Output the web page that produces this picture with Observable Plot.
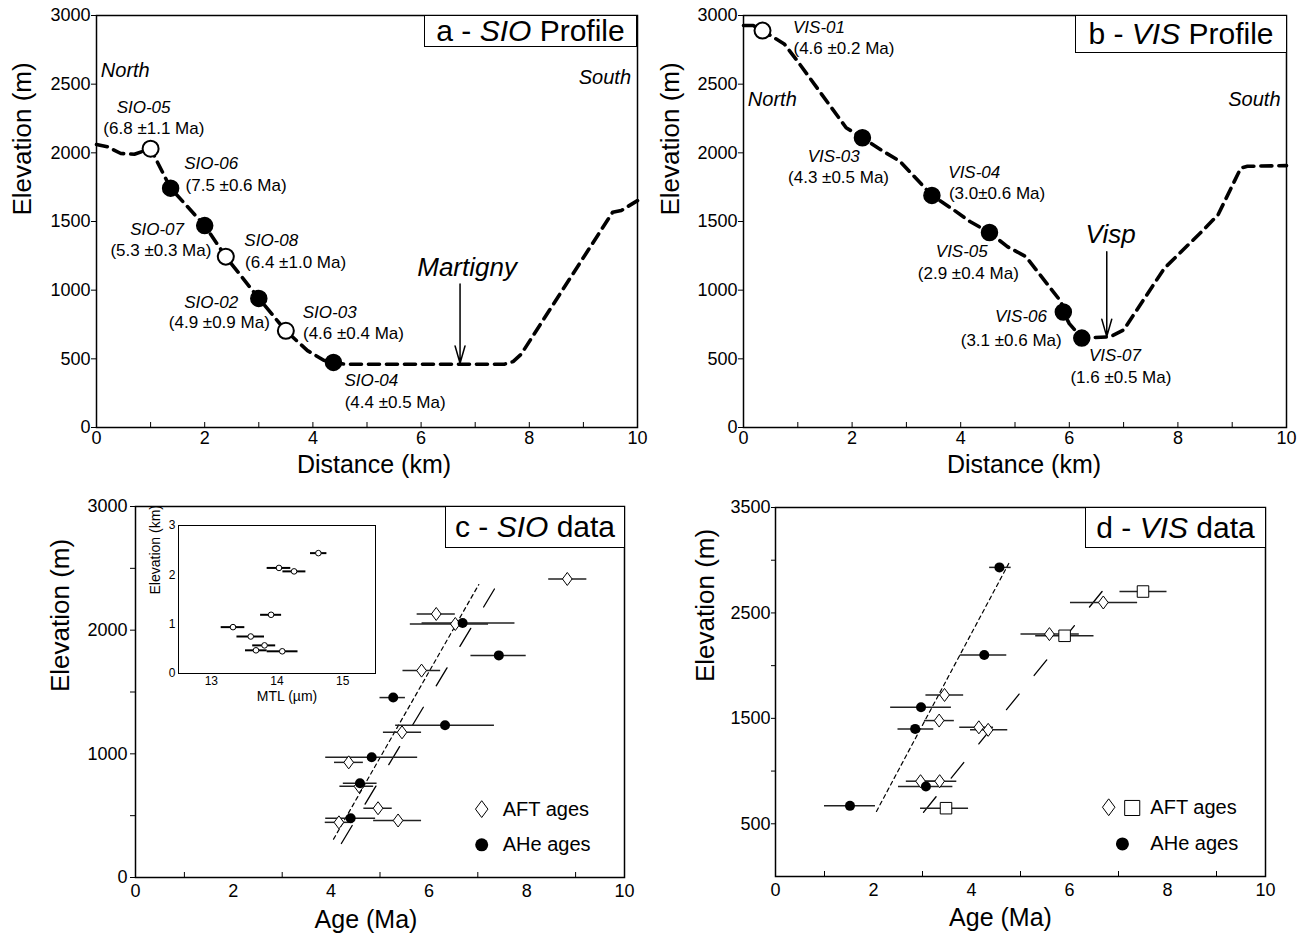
<!DOCTYPE html>
<html><head><meta charset="utf-8">
<script src="https://cdn.jsdelivr.net/npm/d3@7"></script>
<script src="https://cdn.jsdelivr.net/npm/@observablehq/plot@0.6"></script>
<style>
body{margin:0;background:#fff;}
#root{position:relative;width:1298px;height:941px;background:#fff;overflow:hidden;}
</style></head>
<body><div id="root"></div>
<script>
const FONT = "'Liberation Sans', Arial, Helvetica, sans-serif";

// ---------- a: SIO profile ----------
const sioProfileDist = [0, 0.2, 0.45, 0.7, 1.0, 1.37, 2.0, 2.39, 3.0, 3.5, 3.9, 4.2, 4.38, 4.6, 7.54, 7.7, 7.85, 9.54, 9.7, 10];
const sioProfileElev = [2060, 2045, 1995, 1990, 2030, 1743, 1470, 1244, 940, 704, 560, 490, 474, 461, 461, 480, 534, 1567, 1580, 1652];
const sioIds = ["SIO-05", "SIO-06", "SIO-07", "SIO-08", "SIO-02", "SIO-03", "SIO-04"];
const sioDist = [1.0, 1.37, 2.0, 2.39, 3.0, 3.5, 4.38];
const sioElev = [2030, 1743, 1470, 1244, 940, 704, 474];
const sioAgeText = ["(6.8 ±1.1 Ma)", "(7.5 ±0.6 Ma)", "(5.3 ±0.3 Ma)", "(6.4 ±1.0 Ma)", "(4.9 ±0.9 Ma)", "(4.6 ±0.4 Ma)", "(4.4 ±0.5 Ma)"];
const sioOpen = [true, false, false, true, false, true, false];
const sioIdAnchor = [[0.87, 2332], [2.12, 1919], [1.12, 1445], [3.23, 1360], [2.12, 911], [4.31, 838], [5.08, 340]];
const sioAgeAnchor = [[1.06, 2174], [2.58, 1761], [1.19, 1292], [3.68, 1202], [2.27, 765], [4.75, 685], [5.52, 182]];

// ---------- b: VIS profile ----------
const visProfileDist = [0, 0.18, 0.35, 0.75, 1.01, 1.89, 2.19, 2.57, 2.88, 3.47, 3.87, 4.17, 4.53, 4.86, 5.2, 5.85, 5.89, 6.0, 6.23, 6.75, 7.0, 7.75, 8.06, 8.44, 8.74, 9.16, 9.28, 10];
const visProfileElev = [2927, 2927, 2890, 2793, 2659, 2183, 2110, 2012, 1939, 1690, 1585, 1500, 1420, 1317, 1244, 915, 841, 756, 651, 660, 710, 1159, 1280, 1427, 1549, 1890, 1902, 1907];
const visIds = ["VIS-01", "VIS-03", "VIS-04", "VIS-05", "VIS-06", "VIS-07"];
const visDist = [0.35, 2.19, 3.47, 4.53, 5.89, 6.23];
const visElev = [2890, 2110, 1690, 1420, 841, 651];
const visAgeText = ["(4.6 ±0.2 Ma)", "(4.3 ±0.5 Ma)", "(3.0±0.6 Ma)", "(2.9 ±0.4 Ma)", "(3.1 ±0.6 Ma)", "(1.6 ±0.5 Ma)"];
const visOpen = [true, false, false, false, false, false];
const visIdAnchor = [[1.39, 2915], [1.66, 1976], [4.25, 1854], [4.02, 1280], [5.11, 805], [6.84, 524]];
const visAgeAnchor = [[1.85, 2756], [1.75, 1817], [4.67, 1700], [4.14, 1122], [4.93, 634], [6.95, 366]];

// ---------- c: SIO data ----------
const sioAftAge = [8.83, 6.15, 6.54, 5.85, 5.45, 4.36, 4.57, 4.96, 5.37, 4.16];
const sioAftElev = [2414, 2131, 2050, 1673, 1174, 931, 737, 560, 461, 446];
const sioAftLo = [8.45, 5.76, 5.62, 5.47, 5.07, 4.07, 4.18, 4.67, 4.87, 3.88];
const sioAftHi = [9.23, 6.54, 7.22, 6.24, 5.85, 4.66, 4.87, 5.25, 5.85, 4.45];
const sioAheAge = [6.69, 7.43, 5.27, 6.33, 4.83, 4.59, 4.40];
const sioAheElev = [2058, 1796, 1455, 1231, 973, 762, 479];
const sioAheLo = [5.86, 6.86, 5.00, 5.32, 3.89, 4.25, 3.89];
const sioAheHi = [7.76, 7.99, 5.52, 7.34, 5.77, 4.94, 4.91];
const sioShortFit = [[4.05, 310], [7.02, 2369]];
const sioLongFit = [[4.21, 275], [7.36, 2346]];
// inset: MTL vs elevation
const mtlValue = [14.63, 14.03, 14.26, 13.91, 13.33, 13.60, 13.81, 13.68, 14.08];
const mtlElev = [2.44, 2.14, 2.07, 1.19, 0.94, 0.75, 0.57, 0.47, 0.45];
const mtlLo = [14.51, 13.85, 14.09, 13.75, 13.15, 13.39, 13.63, 13.52, 13.85];
const mtlHi = [14.76, 14.21, 14.44, 14.07, 13.51, 13.81, 13.98, 13.85, 14.32];

// ---------- d: VIS data ----------
const visAftDiaAge = [5.59, 6.69, 3.45, 3.34, 4.15, 4.34, 2.96, 3.35];
const visAftDiaElev = [2299, 2599, 1722, 1479, 1415, 1391, 904, 904];
const visAftDiaLo = [5.01, 6.02, 3.07, 3.04, 3.76, 3.98, 2.67, 3.00];
const visAftDiaHi = [6.20, 7.39, 3.84, 3.65, 4.45, 4.74, 3.30, 3.70];
const visAftSqAge = [5.90, 7.50, 3.48];
const visAftSqElev = [2283, 2703, 648];
const visAftSqLo = [5.31, 7.03, 2.96];
const visAftSqHi = [6.50, 7.99, 3.94];
const visAheAge = [4.57, 4.26, 2.97, 2.85, 3.07, 1.52];
const visAheElev = [2932, 2101, 1605, 1400, 853, 670];
const visAheLo = [4.37, 3.77, 2.35, 2.50, 2.51, 1.00];
const visAheHi = [4.81, 4.72, 3.59, 3.23, 3.62, 2.04];
const visShortFit = [[2.06, 617], [4.76, 2969]];
const visLongFit = [[3.02, 609], [6.84, 2804]];

// ---------- helpers ----------
const root = document.getElementById("root");
function place(svg, left, top) {
  svg.style.position = "absolute";
  svg.style.left = left + "px";
  svg.style.top = top + "px";
  svg.style.maxWidth = "none";
  root.appendChild(svg);
}
function tag(left, top, w, h, html) {
  const div = document.createElement("div");
  div.style.cssText = `position:absolute;left:${left}px;top:${top}px;width:${w}px;height:${h}px;box-sizing:border-box;border:1.5px solid #000;background:#fff;font-family:${FONT};font-size:30px;line-height:1;display:flex;align-items:center;justify-content:center;white-space:pre;color:#000;`;
  div.innerHTML = html;
  root.appendChild(div);
}
const tallDiamond = {
  draw(ctx, size) {
    const r = Math.sqrt(size / Math.PI);
    const w = r * 0.78, h = r * 1.05;
    ctx.moveTo(0, -h); ctx.lineTo(w, 0); ctx.lineTo(0, h); ctx.lineTo(-w, 0); ctx.closePath();
  }
};
const zip = (xs, ys) => xs.map((x, i) => ({x, y: ys[i]}));
const bars = (age, elev, lo, hi) => age.map((a, i) => ({a, e: elev[i], lo: lo[i], hi: hi[i]}));
const blank = () => "";

function profilePanel(cfg) {
  const prof = zip(cfg.pd, cfg.pe);
  const samples = cfg.ids.map((id, i) => ({id, x: cfg.sd[i], y: cfg.se[i], open: cfg.open[i], age: cfg.ages[i],
    ix: cfg.idPos[i][0], iy: cfg.idPos[i][1], ax: cfg.agePos[i][0], ay: cfg.agePos[i][1]}));
  return Plot.plot({
    width: 649, height: 480,
    marginLeft: cfg.ml, marginRight: cfg.mr, marginTop: 15, marginBottom: 53,
    x: {domain: [0, 10]}, y: {domain: [0, 3000]},
    style: {fontFamily: FONT, background: "transparent", color: "black", overflow: "visible"},
    marks: [
      Plot.line(prof, {x: "x", y: "y", stroke: "black", strokeWidth: 3.6, strokeDasharray: "11,7"}),
      Plot.arrow([cfg.arrow], {x1: "x", x2: "x", y1: "top", y2: "bottom", stroke: "black", strokeWidth: 1.5, headLength: 18, headAngle: 32}),
      Plot.text([cfg.arrow], {x: "tx", y: "ty", text: "name", fontSize: 26, fontStyle: "italic"}),
      Plot.dot(samples.filter(d => d.open), {x: "x", y: "y", r: 8, fill: "white", stroke: "black", strokeWidth: 2}),
      Plot.dot(samples.filter(d => !d.open), {x: "x", y: "y", r: 8, fill: "black", stroke: "black"}),
      Plot.text(samples, {x: "ix", y: "iy", text: "id", fontSize: 17, fontStyle: "italic"}),
      Plot.text(samples, {x: "ax", y: "ay", text: "age", fontSize: 17}),
      Plot.text([cfg.north], {x: "x", y: "y", text: "t", textAnchor: "start", fontSize: 20, fontStyle: "italic"}),
      Plot.text([cfg.south], {x: "x", y: "y", text: "t", textAnchor: "end", fontSize: 20, fontStyle: "italic"}),
      Plot.axisY({ticks: [0, 500, 1000, 1500, 2000, 2500, 3000], tickSize: 5, tickPadding: 1, fontSize: 18, tickFormat: "d", label: null}),
      Plot.axisX({ticks: [0, 2, 4, 6, 8, 10], tickSize: 0, tickPadding: 4, fontSize: 18, tickFormat: "d", label: null}),
      Plot.axisX({ticks: d3.range(1, 10), tickSize: -5, tickFormat: blank, label: null}),
      Plot.text(["Distance (km)"], {frameAnchor: "bottom", dx: cfg.tdx, dy: cfg.tdy, fontSize: 25}),
      Plot.text(["Elevation (m)"], {frameAnchor: "left", dx: cfg.edx, dy: -6, rotate: -90, fontSize: 26}),
      Plot.frame({stroke: "black", strokeWidth: 1.5})
    ]
  });
}

// Panel a
place(profilePanel({
  pd: sioProfileDist, pe: sioProfileElev, ids: sioIds, sd: sioDist, se: sioElev, open: sioOpen, ages: sioAgeText,
  idPos: sioIdAnchor, agePos: sioAgeAnchor, ml: 96, mr: 12,
  arrow: {x: 6.72, top: 1044, bottom: 468, name: "Martigny", tx: 6.85, ty: 1166},
  north: {x: 0.08, y: 2599, t: "North"}, south: {x: 9.88, y: 2550, t: "South"},
  tdx: 7, tdy: 45, edx: -74
}), 0, 0);

// Panel b
place(profilePanel({
  pd: visProfileDist, pe: visProfileElev, ids: visIds, sd: visDist, se: visElev, open: visOpen, ages: visAgeText,
  idPos: visIdAnchor, agePos: visAgeAnchor, ml: 94, mr: 12,
  arrow: {x: 6.69, top: 1280, bottom: 662, name: "Visp", tx: 6.76, ty: 1402},
  north: {x: 0.08, y: 2390, t: "North"}, south: {x: 9.89, y: 2390, t: "South"},
  tdx: 9, tdy: 45, edx: -73
}), 649, 0);

// Panel c
{
  const aft = bars(sioAftAge, sioAftElev, sioAftLo, sioAftHi);
  const ahe = bars(sioAheAge, sioAheElev, sioAheLo, sioAheHi);
  const svg = Plot.plot({
    width: 649, height: 461,
    marginLeft: 135, marginRight: 25, marginTop: 26, marginBottom: 64,
    x: {domain: [0, 10]}, y: {domain: [0, 3000]},
    style: {fontFamily: FONT, background: "transparent", color: "black", overflow: "visible"},
    marks: [
      Plot.line(zip(sioShortFit.map(d => d[0]), sioShortFit.map(d => d[1])), {x: "x", y: "y", stroke: "black", strokeWidth: 1.2, strokeDasharray: "4,3.5"}),
      Plot.line(zip(sioLongFit.map(d => d[0]), sioLongFit.map(d => d[1])), {x: "x", y: "y", stroke: "black", strokeWidth: 1.3, strokeDasharray: "21,25"}),
      Plot.ruleY(aft, {y: "e", x1: "lo", x2: "hi", stroke: "#222", strokeWidth: 1.5}),
      Plot.ruleY(ahe, {y: "e", x1: "lo", x2: "hi", stroke: "#222", strokeWidth: 1.5}),
      Plot.dot(aft, {x: "a", y: "e", symbol: tallDiamond, r: 6.2, fill: "white", stroke: "black", strokeWidth: 1}),
      Plot.dot(ahe, {x: "a", y: "e", r: 5, fill: "black"}),
      Plot.dot([{x: 7.08, y: 553}], {x: "x", y: "y", symbol: tallDiamond, r: 8, fill: "white", stroke: "black", strokeWidth: 1}),
      Plot.dot([{x: 7.08, y: 264}], {x: "x", y: "y", r: 6.5, fill: "black"}),
      Plot.text([{x: 7.51, y: 553, t: "AFT ages"}, {x: 7.51, y: 264, t: "AHe ages"}], {x: "x", y: "y", text: "t", textAnchor: "start", fontSize: 20}),
      Plot.axisY({ticks: [0, 1000, 2000, 3000], tickSize: 5, tickPadding: 3, fontSize: 18, tickFormat: "d", label: null}),
      Plot.axisY({ticks: [500, 1500, 2500], tickSize: 5, tickFormat: blank, label: null}),
      Plot.axisX({ticks: [0, 2, 4, 6, 8, 10], tickSize: 0, tickPadding: 7, fontSize: 18, tickFormat: "d", label: null}),
      Plot.axisX({ticks: [1, 3, 5, 7, 9], tickSize: -5, tickFormat: blank, label: null}),
      Plot.text(["Age (Ma)"], {frameAnchor: "bottom", dx: -14, dy: 50, fontSize: 25}),
      Plot.text(["Elevation (m)"], {frameAnchor: "left", dx: -75, dy: 0, rotate: -90, fontSize: 26}),
      Plot.frame({stroke: "black", strokeWidth: 1.5})
    ]
  });
  place(svg, 0, 480);

  const mtl = mtlValue.map((m, i) => ({m, e: mtlElev[i], lo: mtlLo[i], hi: mtlHi[i]}));
  const inset = Plot.plot({
    width: 255, height: 195,
    marginLeft: 48, marginRight: 10, marginTop: 10, marginBottom: 37,
    x: {domain: [12.5, 15.5]}, y: {domain: [0, 3]},
    style: {fontFamily: FONT, background: "transparent", color: "black", overflow: "visible"},
    marks: [
      Plot.ruleY(mtl, {y: "e", x1: "lo", x2: "hi", stroke: "black", strokeWidth: 2}),
      Plot.dot(mtl, {x: "m", y: "e", r: 2.8, fill: "white", stroke: "black", strokeWidth: 1}),
      Plot.axisY({ticks: [0, 1, 2, 3], tickSize: 0, tickPadding: 3, fontSize: 12, tickFormat: "d", label: null}),
      Plot.axisX({ticks: [13, 14, 15], tickSize: 0, tickPadding: 3, fontSize: 12, tickFormat: "d", label: null}),
      Plot.text(["MTL (µm)"], {frameAnchor: "bottom", dx: 10, dy: 27, fontSize: 14}),
      Plot.text(["Elevation (km)"], {frameAnchor: "left", dx: -23, dy: -5, rotate: -90, fontSize: 14}),
      Plot.frame({stroke: "black", strokeWidth: 1})
    ]
  });
  place(inset, 130, 515);
}

// Panel d
{
  const dia = bars(visAftDiaAge, visAftDiaElev, visAftDiaLo, visAftDiaHi);
  const sq = bars(visAftSqAge, visAftSqElev, visAftSqLo, visAftSqHi);
  const ahe = bars(visAheAge, visAheElev, visAheLo, visAheHi);
  const svg = Plot.plot({
    width: 649, height: 461,
    marginLeft: 126, marginRight: 33, marginTop: 27, marginBottom: 65,
    x: {domain: [0, 10]}, y: {domain: [0, 3500]},
    style: {fontFamily: FONT, background: "transparent", color: "black", overflow: "visible"},
    marks: [
      Plot.line(zip(visShortFit.map(d => d[0]), visShortFit.map(d => d[1])), {x: "x", y: "y", stroke: "black", strokeWidth: 1.2, strokeDasharray: "4,3.5"}),
      Plot.line(zip(visLongFit.map(d => d[0]), visLongFit.map(d => d[1])), {x: "x", y: "y", stroke: "black", strokeWidth: 1.3, strokeDasharray: "20,24"}),
      Plot.ruleY(dia, {y: "e", x1: "lo", x2: "hi", stroke: "#222", strokeWidth: 1.5}),
      Plot.ruleY(sq, {y: "e", x1: "lo", x2: "hi", stroke: "#222", strokeWidth: 1.5}),
      Plot.ruleY(ahe, {y: "e", x1: "lo", x2: "hi", stroke: "#222", strokeWidth: 1.5}),
      Plot.dot(dia, {x: "a", y: "e", symbol: tallDiamond, r: 6.2, fill: "white", stroke: "black", strokeWidth: 1}),
      Plot.dot(sq, {x: "a", y: "e", symbol: "square", r: 6.5, fill: "white", stroke: "black", strokeWidth: 1}),
      Plot.dot(ahe, {x: "a", y: "e", r: 5, fill: "black"}),
      Plot.dot([{x: 6.80, y: 657}], {x: "x", y: "y", symbol: tallDiamond, r: 8, fill: "white", stroke: "black", strokeWidth: 1}),
      Plot.dot([{x: 7.28, y: 650}], {x: "x", y: "y", symbol: "square", r: 8.5, fill: "white", stroke: "black", strokeWidth: 1}),
      Plot.dot([{x: 7.08, y: 309}], {x: "x", y: "y", r: 6.5, fill: "black"}),
      Plot.text([{x: 7.65, y: 655, t: "AFT ages"}, {x: 7.65, y: 309, t: "AHe ages"}], {x: "x", y: "y", text: "t", textAnchor: "start", fontSize: 20}),
      Plot.axisY({ticks: [500, 1500, 2500, 3500], tickSize: 4, tickPadding: 1, fontSize: 18, tickFormat: "d", label: null}),
      Plot.axisY({ticks: [1000, 2000, 3000], tickSize: 4, tickFormat: blank, label: null}),
      Plot.axisX({ticks: [0, 2, 4, 6, 8, 10], tickSize: 0, tickPadding: 7, fontSize: 18, tickFormat: "d", label: null}),
      Plot.axisX({ticks: [1, 3, 5, 7, 9], tickSize: -5, tickFormat: blank, label: null}),
      Plot.text(["Age (Ma)"], {frameAnchor: "bottom", dx: -20, dy: 49, fontSize: 25}),
      Plot.text(["Elevation (m)"], {frameAnchor: "left", dx: -70, dy: -10, rotate: -90, fontSize: 26}),
      Plot.frame({stroke: "black", strokeWidth: 1.5})
    ]
  });
  place(svg, 649, 480);
}

// panel tags
tag(424, 15, 213, 32, "a - <i>SIO</i> Profile");
tag(1075, 15, 212, 38, "b - <i>VIS</i> Profile");
tag(445, 506, 180, 42, "c - <i>SIO</i> data");
tag(1085, 507, 181, 41, "d - <i>VIS</i> data");
</script>
</body></html>
